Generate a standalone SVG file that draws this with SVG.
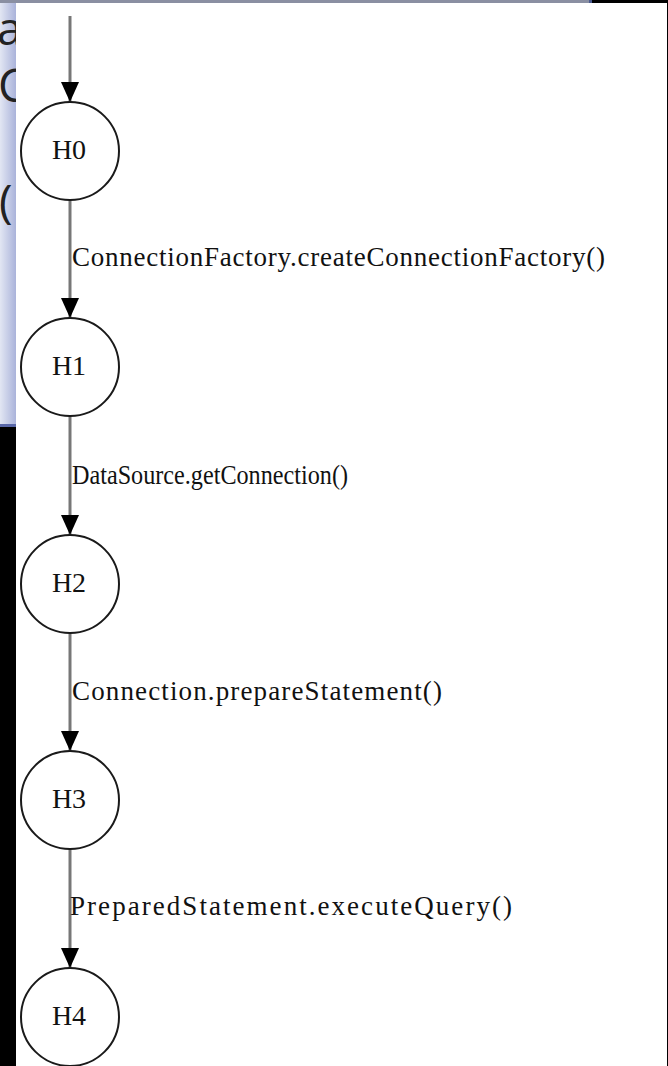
<svg xmlns="http://www.w3.org/2000/svg" width="668" height="1066" viewBox="0 0 668 1066">
  <style>
    .node circle { fill: #ffffff; stroke: #1a1a1a; stroke-width: 2; }
    .node text { font-family: "Liberation Serif", serif; font-size: 28px; fill: #111; text-anchor: middle; }
    .edge line { stroke: #777777; stroke-width: 3; }
    .elabel { font-family: "Liberation Serif", serif; font-size: 27px; fill: #111; }
    .slide { font-family: "Open Sans", "Liberation Sans", sans-serif; font-size: 46px; fill: #222; }
  </style>
  <defs>
    <linearGradient id="strip" x1="0" y1="0" x2="1" y2="0">
      <stop offset="0" stop-color="#e2e6f3"/>
      <stop offset="1" stop-color="#aab3da"/>
    </linearGradient>
    <marker id="arrow" viewBox="0 0 20 18" refX="20" refY="9" markerWidth="20" markerHeight="18" markerUnits="userSpaceOnUse" orient="auto">
      <path d="M0,0 L20,9 L0,18 Z" fill="#000"/>
    </marker>
  </defs>

  <!-- backdrop behind the panel -->
  <rect x="0" y="0" width="668" height="1066" fill="#000"/>
  <rect x="0" y="0" width="16" height="425" fill="url(#strip)"/>
  <rect x="0" y="424" width="16" height="3" fill="#5a68a8"/>
  <rect x="0" y="0" width="590" height="3" fill="#8a8fa2"/>
  <rect x="589" y="0" width="3" height="3" fill="#4a5a90"/>
  <text class="slide" x="-3" y="45">a</text>
  <text class="slide" x="-2" y="102">C</text>
  <text class="slide" x="-1" y="218">(</text>

  <!-- white panel -->
  <rect x="16" y="3" width="651" height="1063" fill="#ffffff"/>

  <g id="connectors">
    <g class="edge"><line x1="70" y1="16" x2="70" y2="102" marker-end="url(#arrow)"/></g>
    <g class="edge"><line x1="70" y1="200" x2="70" y2="318" marker-end="url(#arrow)"/></g>
    <g class="edge"><line x1="70" y1="416" x2="70" y2="535" marker-end="url(#arrow)"/></g>
    <g class="edge"><line x1="70" y1="633" x2="70" y2="751" marker-end="url(#arrow)"/></g>
    <g class="edge"><line x1="70" y1="849" x2="70" y2="968" marker-end="url(#arrow)"/></g>
    <text class="elabel" x="72" y="266" textLength="533" lengthAdjust="spacing">ConnectionFactory.createConnectionFactory()</text>
    <text class="elabel" x="72" y="484" textLength="276" lengthAdjust="spacingAndGlyphs">DataSource.getConnection()</text>
    <text class="elabel" x="72" y="700" textLength="370" lengthAdjust="spacing">Connection.prepareStatement()</text>
    <text class="elabel" x="70" y="915" textLength="442" lengthAdjust="spacing">PreparedStatement.executeQuery()</text>
  </g>

  <g id="H0" class="node"><circle cx="70" cy="151" r="49"/><text x="69" y="159">H0</text></g>
  <g id="H1" class="node"><circle cx="70" cy="367" r="49"/><text x="69" y="375">H1</text></g>
  <g id="H2" class="node"><circle cx="70" cy="584" r="49"/><text x="69" y="592">H2</text></g>
  <g id="H3" class="node"><circle cx="70" cy="800" r="49"/><text x="69" y="808">H3</text></g>
  <g id="H4" class="node"><circle cx="70" cy="1017" r="49"/><text x="69" y="1025">H4</text></g>
</svg>
